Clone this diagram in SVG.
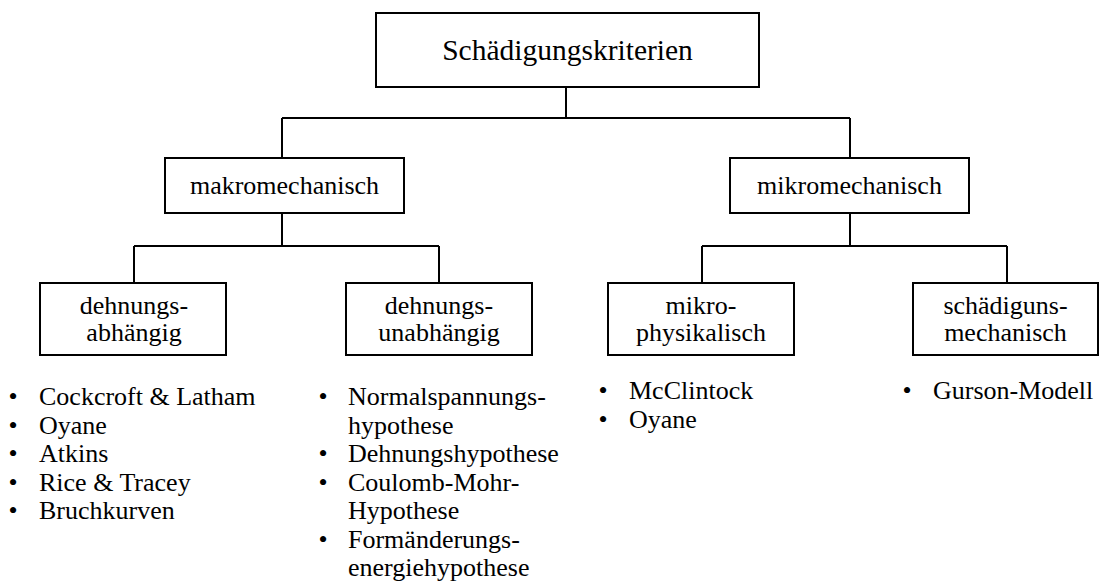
<svg xmlns="http://www.w3.org/2000/svg" width="1099" height="582" viewBox="0 0 1099 582">
<style>
.box{fill:#fff;stroke:#000;stroke-width:2}
.con{fill:none;stroke:#000;stroke-width:2}
.c{text-anchor:middle}
</style>
<g id="connectors">
<path class="con" d="M566 87V118M282 118H850M282 118V158M850 118V158"/>
<path class="con" d="M282 213V246M134 246H439M134 246V283M439 246V283"/>
<path class="con" d="M850 213V246M702 246H1007M702 246V283M1007 246V283"/>
</g>
<g font-family="Liberation Serif, Times New Roman, serif" font-size="26" fill="#000">
<g id="root">
<rect class="box" x="376" y="13" width="383" height="74"/>
<text class="c" x="567.5" y="60" font-size="29.5">Schädigungskriterien</text>
</g>
<g id="makro">
<rect class="box" x="165" y="158" width="239" height="55"/>
<text class="c" x="284.5" y="194">makromechanisch</text>
</g>
<g id="mikro">
<rect class="box" x="730" y="158" width="239" height="55"/>
<text class="c" x="849.5" y="194">mikromechanisch</text>
</g>
<g id="dehnungsabhaengig">
<rect class="box" x="40" y="283" width="186" height="72"/>
<text class="c" x="134" y="314">dehnungs-</text>
<text class="c" x="134" y="341">abhängig</text>
</g>
<g id="dehnungsunabhaengig">
<rect class="box" x="346" y="283" width="186" height="72"/>
<text class="c" x="439" y="314">dehnungs-</text>
<text class="c" x="439" y="341">unabhängig</text>
</g>
<g id="mikrophysikalisch">
<rect class="box" x="608" y="283" width="186" height="72"/>
<text class="c" x="701" y="314">mikro-</text>
<text class="c" x="701" y="341">physikalisch</text>
</g>
<g id="schaedigunsmechanisch">
<rect class="box" x="913" y="283" width="185" height="72"/>
<text class="c" x="1005.5" y="314">schädiguns-</text>
<text class="c" x="1005.5" y="341">mechanisch</text>
</g>
<g id="list1">
<text class="c" x="13" y="405">•</text><text x="39" y="405">Cockcroft &amp; Latham</text>
<text class="c" x="13" y="433.5">•</text><text x="39" y="433.5">Oyane</text>
<text class="c" x="13" y="462">•</text><text x="39" y="462">Atkins</text>
<text class="c" x="13" y="490.5">•</text><text x="39" y="490.5">Rice &amp; Tracey</text>
<text class="c" x="13" y="519">•</text><text x="39" y="519">Bruchkurven</text>
</g>
<g id="list2">
<text class="c" x="323" y="405">•</text><text x="348" y="405">Normalspannungs-</text>
<text x="348" y="433.5">hypothese</text>
<text class="c" x="323" y="462">•</text><text x="348" y="462">Dehnungshypothese</text>
<text class="c" x="323" y="490.5">•</text><text x="348" y="490.5">Coulomb-Mohr-</text>
<text x="348" y="519">Hypothese</text>
<text class="c" x="323" y="547.5">•</text><text x="348" y="547.5">Formänderungs-</text>
<text x="348" y="576">energiehypothese</text>
</g>
<g id="list3">
<text class="c" x="603" y="399">•</text><text x="629" y="399">McClintock</text>
<text class="c" x="603" y="428">•</text><text x="629" y="428">Oyane</text>
</g>
<g id="list4">
<text class="c" x="907" y="399">•</text><text x="933" y="399">Gurson-Modell</text>
</g>
</g>
</svg>
